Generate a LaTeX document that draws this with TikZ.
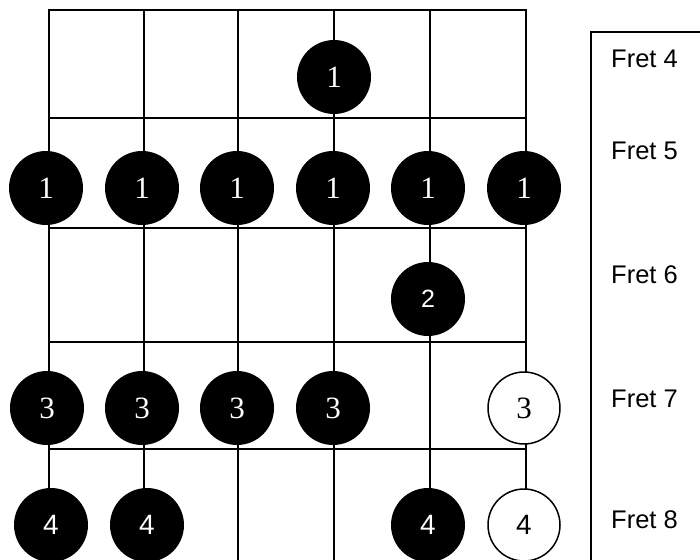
\documentclass[tikz,border=0pt]{standalone}
\usepackage{fontspec}
\setmainfont{Liberation Serif}
\newfontfamily\arialf{Liberation Sans}
\tikzset{
  grid line/.style={line width=2pt, black},
  dot/.style={circle, fill=black, draw=none, minimum size=74pt, inner sep=0pt, text=white},
  opendot/.style={circle, fill=white, draw=black, line width=1.5pt, minimum size=72pt, inner sep=0pt, text=black},
  serifnum/.style={font=\fontsize{31}{31}\selectfont},
  sansnum/.style={font=\arialf\fontsize{25}{25}\selectfont},
  sansfour/.style={font=\arialf\fontsize{28}{28}\selectfont},
  fretlabel/.style={anchor=base west, inner sep=0pt, font=\arialf\fontsize{25.5}{25.5}\selectfont}
}
\begin{document}
\begin{tikzpicture}[x=1pt,y=-1pt]
\useasboundingbox (0,0) rectangle (700,559);
\clip (0,0) rectangle (700,559);
% strings
\foreach \x in {49,144,238,334,430,526}
  \draw[grid line] (\x,10) -- (\x,560);
% frets
\foreach \y in {10,118,228,342,449}
  \draw[grid line] (48,\y) -- (527,\y);
% right box
\draw[line width=2pt] (591,32) rectangle (720,600);
% row fret 4
\node[dot,serifnum] (a4) at (334,77) {1};
% row fret 5
\node[dot,serifnum] (b1) at (46,188) {1};
\node[dot,serifnum] (b2) at (142,188) {1};
\node[dot,serifnum] (b3) at (237,188) {1};
\node[dot,serifnum] (b4) at (333,188) {1};
\node[dot,serifnum] (b5) at (428,188) {1};
\node[dot,serifnum] (b6) at (524,188) {1};
% row fret 6
\node[dot,sansnum] (c5) at (428,299) {2};
% row fret 7
\node[dot,serifnum] (d1) at (47,408) {3};
\node[dot,serifnum] (d2) at (142,408) {3};
\node[dot,serifnum] (d3) at (237,408) {3};
\node[dot,serifnum] (d4) at (333,408) {3};
\node[opendot,serifnum] (d6) at (524,408) {3};
% row fret 8
\node[dot,sansfour] (e1) at (51,525) {4};
\node[dot,sansfour] (e2) at (147,525) {4};
\node[dot,sansfour] (e5) at (428,525) {4};
\node[opendot,sansfour] (e6) at (524,525) {4};
% labels
\node[fretlabel] (f4) at (611,68) {Fret 4};
\node[fretlabel] (f5) at (611,159) {Fret 5};
\node[fretlabel] (f6) at (611,283) {Fret 6};
\node[fretlabel] (f7) at (611,407) {Fret 7};
\node[fretlabel] (f8) at (611,528) {Fret 8};
\end{tikzpicture}
\end{document}
